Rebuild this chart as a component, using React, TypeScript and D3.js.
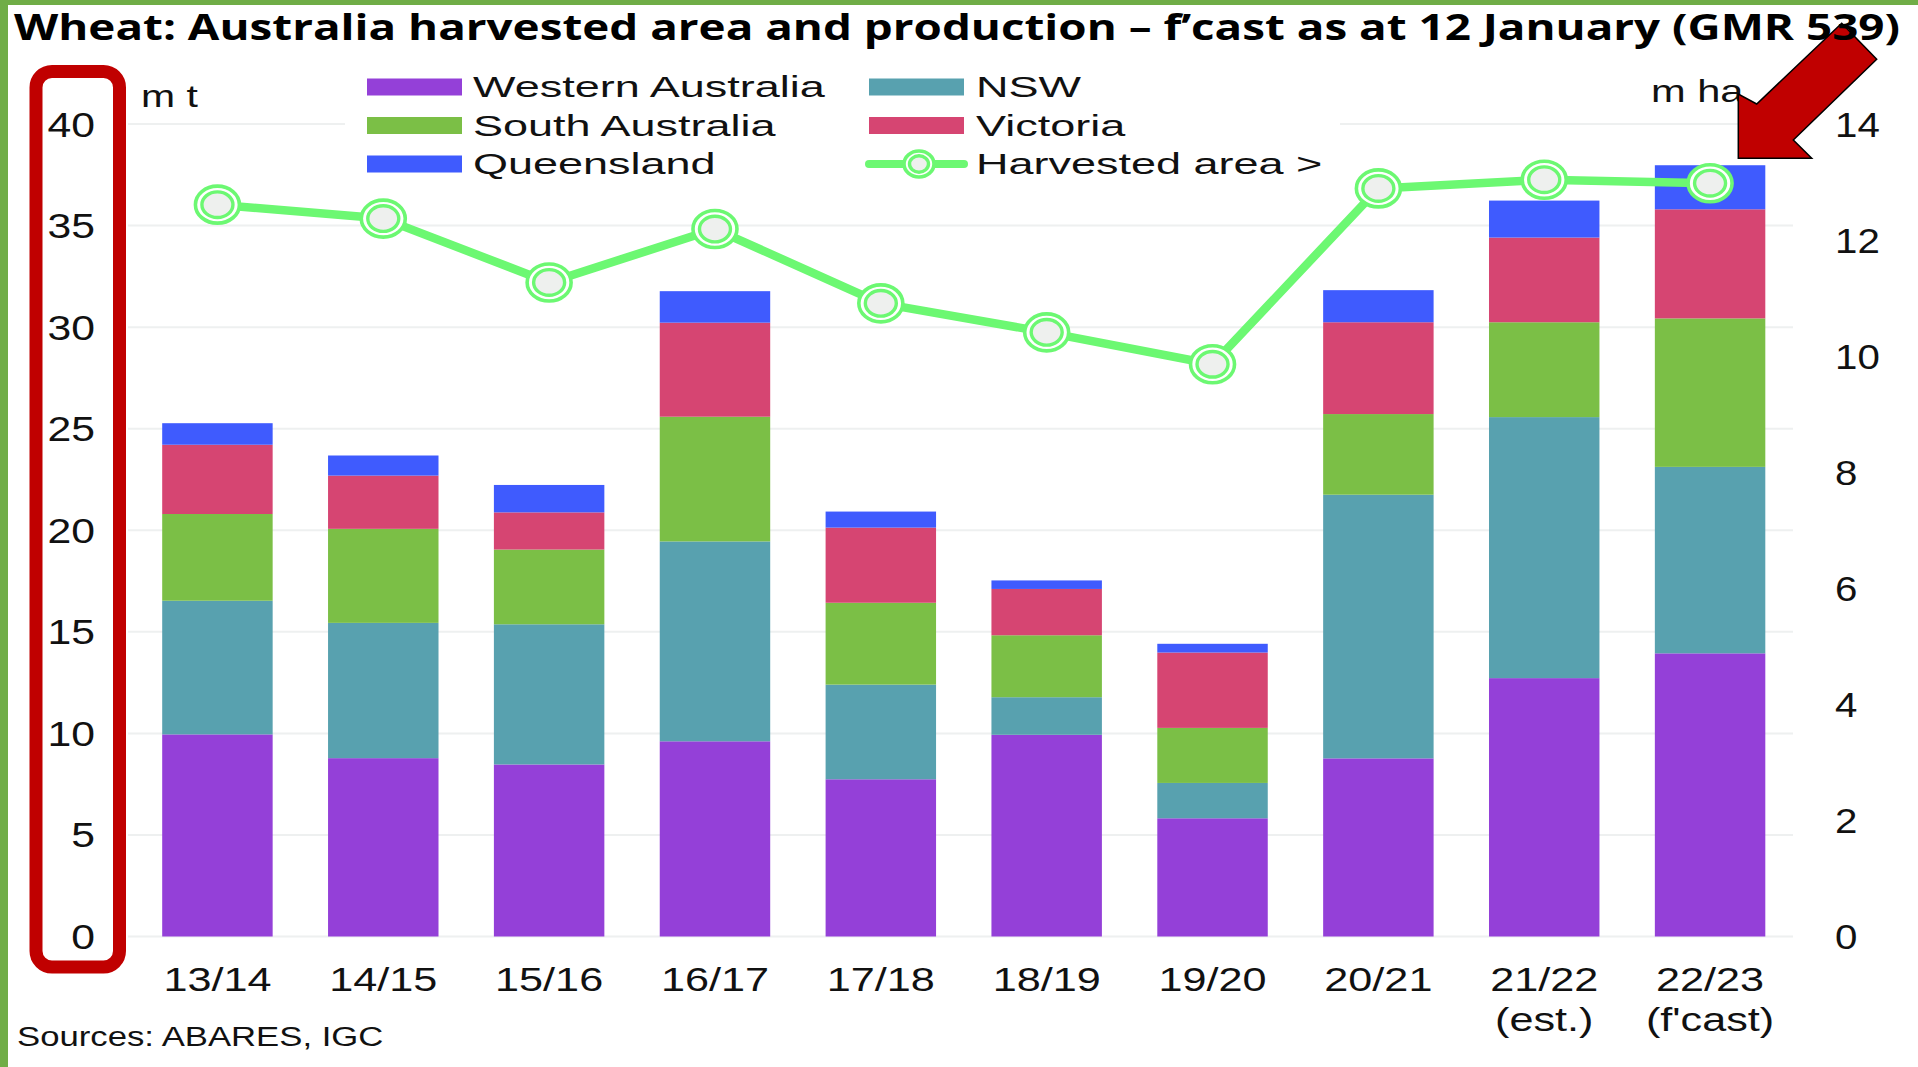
import React from "react";
import * as d3 from "d3";

const categories = ["13/14", "14/15", "15/16", "16/17", "17/18", "18/19", "19/20", "20/21", "21/22", "22/23"];
const subLabels = ["", "", "", "", "", "", "", "", "(est.)", "(f'cast)"];
const westernAustralia = [9.95, 8.78, 8.47, 9.61, 7.74, 9.93, 5.82, 8.77, 12.72, 13.94];
const nsw = [6.58, 6.66, 6.9, 9.84, 4.66, 1.85, 1.74, 12.98, 12.85, 9.18];
const southAustralia = [4.27, 4.63, 3.68, 6.14, 4.03, 3.05, 2.71, 3.97, 4.67, 7.31];
const victoria = [3.41, 2.62, 1.83, 4.63, 3.7, 2.28, 3.71, 4.52, 4.17, 5.37];
const queensland = [1.06, 0.99, 1.35, 1.55, 0.79, 0.42, 0.43, 1.58, 1.82, 2.17];
const harvestedArea = [12.61, 12.37, 11.27, 12.19, 10.91, 10.41, 9.86, 12.89, 13.04, 12.98];
const leftTicks = [0, 5, 10, 15, 20, 25, 30, 35, 40];
const rightTicks = [0, 2, 4, 6, 8, 10, 12, 14];

const seriesKeys = ["wa", "nsw", "sa", "vic", "qld"];
const seriesNames = ["Western Australia", "NSW", "South Australia", "Victoria", "Queensland"];
const seriesColors = ["#9440D8", "#58A1AF", "#7BBF46", "#D64572", "#3F5BFE"];
const lineColor = "#6CF872";

const SANS = "'Liberation Sans', Arial, sans-serif";

function SText({ x, y, sx = 1, size, anchor = "start", weight = 400, family = SANS, fill = "#111", children }: any) {
  return (
    <text
      transform={`translate(${x},${y}) scale(${sx},1)`}
      textAnchor={anchor}
      fontSize={size}
      fontFamily={family}
      fontWeight={weight}
      fill={fill}
    >
      {children}
    </text>
  );
}

function Marker({ cx, cy, big = true }: any) {
  const o = big ? [22, 18.5] : [15, 13];
  const i = big ? [15.5, 12.8] : [9.5, 8.2];
  return (
    <g>
      <ellipse cx={cx} cy={cy} rx={o[0]} ry={o[1]} fill="#ffffff" stroke={lineColor} strokeWidth={3.6} />
      <ellipse cx={cx} cy={cy} rx={i[0]} ry={i[1]} fill="#EEF0EE" stroke={lineColor} strokeWidth={3.4} />
    </g>
  );
}

export default function App() {
  const W = 1918;
  const H = 1067;
  const x = d3.scaleBand<string>().domain(categories).range([134.5, 1793]).paddingInner(0.334).paddingOuter(0.167);
  const yL = d3.scaleLinear().domain([0, 40]).range([936.5, 124]);
  const yR = d3.scaleLinear().domain([0, 14]).range([936.5, 124]);

  const rows = categories.map((c, i) => ({
    cat: c,
    wa: westernAustralia[i],
    nsw: nsw[i],
    sa: southAustralia[i],
    vic: victoria[i],
    qld: queensland[i],
  }));
  const stacked = d3.stack<any>().keys(seriesKeys)(rows);
  const cx = (c: string) => (x(c) as number) + x.bandwidth() / 2;

  const linePath = d3
    .line<number>()
    .x((_, i) => cx(categories[i]))
    .y((d) => yR(d))(harvestedArea);

  const legendCol1 = [
    { name: seriesNames[0], color: seriesColors[0] },
    { name: seriesNames[2], color: seriesColors[2] },
    { name: seriesNames[4], color: seriesColors[4] },
  ];
  const legendCol2 = [
    { name: seriesNames[1], color: seriesColors[1] },
    { name: seriesNames[3], color: seriesColors[3] },
  ];
  const rowY = [87, 125.5, 164];

  const arrowPts = [
    [1738.3, 158.3],
    [1738.3, 94],
    [1756.7, 104],
    [1841.7, 23.3],
    [1876.7, 59.3],
    [1793.3, 140],
    [1811.7, 158.3],
  ];

  return (
    <div style={{ position: "absolute", left: 0, top: 0, width: W, height: H, background: "#fff" }}>
      <svg width={W} height={H} style={{ display: "block" }}>
        <rect x={0} y={0} width={W} height={H} fill="#ffffff" />
        {/* gridlines */}
        {leftTicks.map((t) => (
          <line key={t} x1={128} x2={1793} y1={yL(t)} y2={yL(t)} stroke="#EEF0F0" strokeWidth={2} />
        ))}
        {/* bars */}
        {stacked.map((s, si) => (
          <g key={s.key} fill={seriesColors[si]}>
            {s.map((d, i) => (
              <rect
                key={i}
                x={x(categories[i])}
                width={x.bandwidth()}
                y={yL(d[1])}
                height={yL(d[0]) - yL(d[1])}
              />
            ))}
          </g>
        ))}
        {/* legend */}
        <rect x={345} y={62} width={995} height={122} fill="#ffffff" />
        {legendCol1.map((it, i) => (
          <g key={it.name}>
            <rect x={367} y={rowY[i] - 8.5} width={95} height={17} fill={it.color} />
            <SText x={473} y={rowY[i] + 10} sx={1.5} size={30}>
              {it.name}
            </SText>
          </g>
        ))}
        {legendCol2.map((it, i) => (
          <g key={it.name}>
            <rect x={869} y={rowY[i] - 8.5} width={95} height={17} fill={it.color} />
            <SText x={976} y={rowY[i] + 10} sx={1.5} size={30}>
              {it.name}
            </SText>
          </g>
        ))}
        <line x1={869} x2={964} y1={rowY[2]} y2={rowY[2]} stroke={lineColor} strokeWidth={8} strokeLinecap="round" />
        <Marker cx={919} cy={rowY[2]} big={false} />
        <SText x={976} y={rowY[2] + 10} sx={1.5} size={30}>
          {"Harvested area >"}
        </SText>
        {/* line */}
        <path d={linePath as string} fill="none" stroke={lineColor} strokeWidth={8.5} strokeLinejoin="round" />
        {harvestedArea.map((v, i) => (
          <Marker key={i} cx={cx(categories[i])} cy={yR(v)} />
        ))}
        {/* axis labels */}
        {leftTicks.map((t) => (
          <SText key={t} x={95} y={yL(t) + 12.5} sx={1.22} size={35} anchor="end">
            {t}
          </SText>
        ))}
        {rightTicks.map((t) => (
          <SText key={t} x={1835} y={yR(t) + 12.5} sx={1.15} size={35}>
            {t}
          </SText>
        ))}
        {categories.map((c, i) => (
          <g key={c}>
            <SText x={cx(c)} y={991} sx={1.27} size={34} anchor="middle">
              {c}
            </SText>
            {subLabels[i] && (
              <SText x={cx(c)} y={1031} sx={1.27} size={34} anchor="middle">
                {subLabels[i]}
              </SText>
            )}
          </g>
        ))}
        <SText x={141} y={107} sx={1.28} size={32}>
          m t
        </SText>
        <SText x={1651} y={102} sx={1.3} size={32}>
          m ha
        </SText>
        <SText x={17} y={1046} sx={1.24} size={28}>
          Sources: ABARES, IGC
        </SText>
        {/* red highlight box */}
        <rect x={36} y={71.5} width={83.5} height={895.5} rx={16} ry={16} fill="none" stroke="#C00000" strokeWidth={13} />
        {/* arrow */}
        <polygon points={arrowPts.map((p) => p.join(",")).join(" ")} fill="#C00000" stroke="#000" strokeWidth={1.5} strokeLinejoin="miter" />
        {/* title */}
        <text
          x={14}
          y={40}
          fontFamily="'Open Sans', 'DejaVu Sans', sans-serif"
          fontWeight={700}
          fontSize={35}
          textLength={1886}
          lengthAdjust="spacingAndGlyphs"
          fill="#000"
        >
          Wheat: Australia harvested area and production – f’cast as at 12 January (GMR 539)
        </text>
        {/* green frame */}
        <rect x={0} y={0} width={8} height={H} fill="#70AD47" />
        <rect x={0} y={0} width={W} height={5} fill="#70AD47" />
      </svg>
    </div>
  );
}
